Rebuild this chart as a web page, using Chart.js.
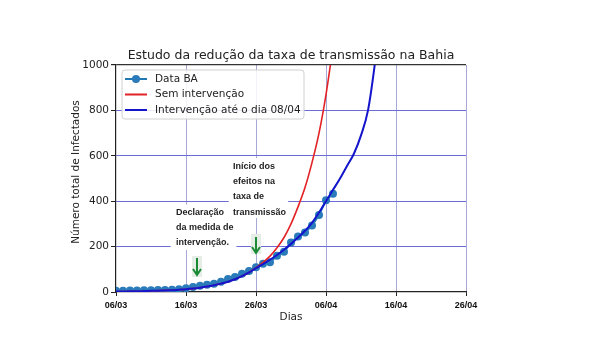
<!DOCTYPE html>
<html><head><meta charset="utf-8">
<script src="https://cdn.jsdelivr.net/npm/chart.js@4"></script>
<style>html,body{margin:0;padding:0;background:#fff}canvas{display:block}</style>
</head><body>
<canvas id="c" width="600" height="360"></canvas>
<script>
// ---- data ----
const tickLabels = ['06/03','16/03','26/03','06/04','16/04','26/04'];
const seriesLabels = ['Data BA','Sem intervenção','Intervenção até o dia 08/04'];
const dataBA = [6,6,7,7,8,8,9,9,10,12,16,22,27,32,36,45,57,66,80,93,109,124,131,160,177,218,245,262,293,339,404,433];
const semIntervencao = [2,2,3,3,4,5,6,7,8,10,12,15,19,24,30,37,45,56,70,86,107,130,158,195,240,300,375,460,570,700,870,1080];
const intervencao = [2,2,3,3,4,5,6,7,8,10,12,15,19,24,30,37,45,56,70,86,105,123,142,163,186,212,240,270,305,350,400,450,500,555,610,690,800,1010,1280];
const annot1 = ['Declaração','da medida de','intervenção.'];
const annot2 = ['Início dos','efeitos na','taxa de','transmissão'];

const toXY = arr => arr.map((v,i)=>({x:i,y:v}));

const annotPlugin = {
  id:'annot',
  beforeDatasetsDraw(chart){
    const {ctx} = chart, xs = chart.scales.x, ys = chart.scales.y;
    const X = v => xs.getPixelForValue(v), Y = v => ys.getPixelForValue(v);
    ctx.save();
    ctx.fillStyle = '#ffffff';
    ctx.fillRect(X(7.8), Y(385), X(17.2)-X(7.8), Y(185)-Y(385));
    ctx.fillRect(X(16.1), Y(590), X(24.6)-X(16.1), Y(326)-Y(590));
    ctx.fillStyle = '#e6ece6';
    ctx.fillRect(X(10.86), Y(159), X(12.29)-X(10.86), Y(66)-Y(159));
    ctx.fillRect(X(19.29), Y(256), X(20.71)-X(19.29), Y(167)-Y(256));
    ctx.fillStyle = '#1e1e1e';
    ctx.font = 'bold 9px "Liberation Sans", Arial, sans-serif';
    ctx.textBaseline = 'middle';
    ctx.textAlign = 'left';
    [348,284,220].forEach((v,i)=>ctx.fillText(annot1[i], X(8.57), Y(v)));
    [551,485,419,352].forEach((v,i)=>ctx.fillText(annot2[i], X(16.7), Y(v)));
    const arrow = (d, v1, v2) => {
      const x = X(d), y1 = Y(v1), y2 = Y(v2);
      ctx.strokeStyle = '#1a8a35'; ctx.lineWidth = 2;
      ctx.beginPath(); ctx.moveTo(x,y1); ctx.lineTo(x,y2-1); ctx.stroke();
      ctx.beginPath(); ctx.moveTo(x-4,y2-6); ctx.lineTo(x,y2); ctx.lineTo(x+4,y2-6); ctx.stroke();
    };
    arrow(11.57,150,75);
    arrow(20,242,172);
    ctx.restore();
  },
  afterDraw(chart){
    const {ctx, chartArea:a} = chart;
    ctx.save();
    // y axis title
    ctx.translate(76, 172);
    ctx.rotate(-Math.PI/2);
    ctx.font = '10.5px "DejaVu Sans", sans-serif';
    ctx.fillStyle = '#222';
    ctx.textAlign = 'center'; ctx.textBaseline = 'middle';
    ctx.fillText('Número total de Infectados', 0, 0);
    ctx.restore();
    // legend
    ctx.save();
    const x0 = a.left + 6, y0 = a.top + 5, w = 182, h = 49;
    ctx.beginPath();
    ctx.roundRect(x0, y0, w, h, 3);
    ctx.fillStyle = 'rgba(255,255,255,0.85)'; ctx.fill();
    ctx.strokeStyle = '#d0d0d0'; ctx.lineWidth = 1; ctx.stroke();
    const rows = [14, 29.5, 45];
    chart.data.datasets.forEach((ds, i) => {
      const y = a.top + rows[i];
      ctx.strokeStyle = ds.borderColor; ctx.lineWidth = 2;
      ctx.beginPath(); ctx.moveTo(a.left+9, y); ctx.lineTo(a.left+31, y); ctx.stroke();
      if (ds.pointRadius > 0) {
        ctx.fillStyle = ds.pointBackgroundColor;
        ctx.beginPath(); ctx.arc(a.left+20, y, 4, 0, Math.PI*2); ctx.fill();
      }
      ctx.fillStyle = '#222';
      ctx.font = '10.5px "DejaVu Sans", sans-serif';
      ctx.textBaseline = 'middle'; ctx.textAlign = 'left';
      ctx.fillText(ds.label, a.left+39, y);
    });
    ctx.restore();
  }
};

new Chart(document.getElementById('c'), {
  type: 'line',
  data: {
    datasets: [
      { label: seriesLabels[0], data: toXY(dataBA), borderColor: '#1f77b4', backgroundColor: '#2a7bba',
        pointBackgroundColor: '#2a7bba', pointBorderWidth: 0, pointRadius: 4, borderWidth: 2, order: 3 },
      { label: seriesLabels[1], data: toXY(semIntervencao), borderColor: '#e32226', pointRadius: 0,
        borderWidth: 1.6, cubicInterpolationMode: 'monotone', order: 2 },
      { label: seriesLabels[2], data: toXY(intervencao), borderColor: '#1414cc', pointRadius: 0,
        borderWidth: 2, cubicInterpolationMode: 'monotone', order: 1 }
    ]
  },
  options: {
    responsive: false, animation: false, devicePixelRatio: 1,
    layout: { padding: { left: 0, right: 134, top: 0, bottom: 0 } },
    plugins: {
      legend: { display: false }, tooltip: { enabled: false },
      title: { display: true, fullSize: false, text: 'Estudo da redução da taxa de transmissão na Bahia',
        font: { family: '"DejaVu Sans", sans-serif', size: 12.5, weight: 'normal' }, color: '#222',
        padding: { top: 48.5, bottom: 1.5 } }
    },
    scales: {
      x: {
        type: 'linear', min: 0, max: 50,
        afterFit: s => { s.height = 68; },
        border: { color: '#222', width: 1.2 },
        grid: { color: c => c.tick && c.tick.value === 0 ? 'rgba(0,0,0,0)' : '#a8a8d6', lineWidth: 1,
                tickColor: '#222', tickLength: 4 },
        ticks: { stepSize: 10, autoSkip: false, maxRotation: 0, padding: 4, color: '#111',
                 font: { family: '"Liberation Sans", Arial, sans-serif', size: 9, weight: 'bold' },
                 callback: v => tickLabels[v/10] },
        title: { display: true, text: 'Dias', color: '#222',
                 font: { family: '"DejaVu Sans", sans-serif', size: 10.5 }, padding: { top: 0, bottom: 36 } }
      },
      y: {
        min: 0, max: 1000,
        afterFit: s => { s.width = 116; },
        border: { color: '#222', width: 1.2 },
        grid: { color: c => c.tick && c.tick.value === 1000 ? '#333' : (c.tick && c.tick.value === 0 ? 'rgba(0,0,0,0)' : '#6c6cd6'),
                lineWidth: c => c.tick && c.tick.value === 1000 ? 1.2 : 1,
                tickColor: '#222', tickLength: 5 },
        ticks: { stepSize: 200, padding: 2, color: '#222',
                 font: { family: '"DejaVu Sans", sans-serif', size: 10.5 },
                 callback: v => String(v) }
      }
    }
  },
  plugins: [annotPlugin]
});
</script>
</body></html>
